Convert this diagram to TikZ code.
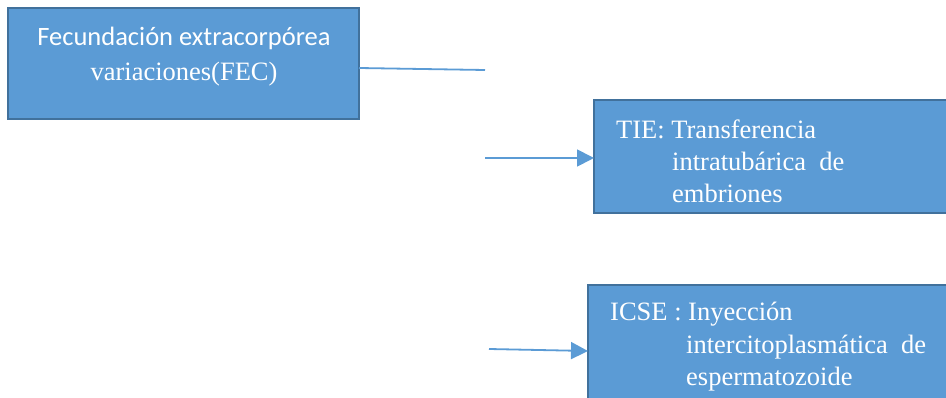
\documentclass[tikz,border=0pt]{standalone}
\usepackage{fontspec}
\setmainfont{Liberation Serif}
\newfontfamily\calfont{Carlito}
\usetikzlibrary{arrows.meta}
\definecolor{boxfill}{HTML}{5B9BD5}
\definecolor{boxedge}{HTML}{41719C}
\begin{document}
\begin{tikzpicture}[x=1pt,y=-1pt,
  box/.style={draw=boxedge,line width=1.8pt,fill=boxfill,inner sep=0pt,outer sep=0pt},
  txt/.style={text=white,inner sep=0pt,font=\fontsize{26.5}{30}\selectfont},
  conn/.style={draw=boxfill,line width=1.8pt},
  arr/.style={conn,-{Triangle[length=17pt,width=17pt]}}]
\useasboundingbox (0,0) rectangle (946,398);
\clip (0,0) rectangle (946,398);
\node[box,minimum width=351pt,minimum height=111pt] (b1) at (183.5,63.5) {};
\node[box,minimum width=354pt,minimum height=113pt] (b2) at (771,156.5) {};
\node[box,minimum width=360pt,minimum height=115pt] (b3) at (768,342.5) {};
\node[txt,font=\calfont\fontsize{26.5}{30}\selectfont,anchor=base] (t1a) at (184,46) {Fecundación extracorpórea};
\node[txt,anchor=base] (t1b) at (184,81) {variaciones(FEC)};
\node[txt,anchor=base west] (t2a) at (616,139) {TIE: Transferencia};
\node[txt,anchor=base west] (t2b) at (672,171) {intratubárica\ \ de};
\node[txt,anchor=base west] (t2c) at (672,203) {embriones};
\node[txt,anchor=base west] (t3a) at (610,321) {ICSE : Inyección};
\node[txt,anchor=base west] (t3b) at (686,353) {intercitoplasmática\ \ de};
\node[txt,anchor=base west] (t3c) at (686,385) {espermatozoide};
\coordinate (e1) at (485,70);
\coordinate (s2) at (485,158);
\coordinate (s3) at (489,349);
\draw[conn] (b1.east |- 0,68) -- (e1);
\draw[arr] (s2) -- (b2.west |- s2);
\draw[arr] (s3) -- (b3.west |- 0,351);
\end{tikzpicture}
\end{document}
